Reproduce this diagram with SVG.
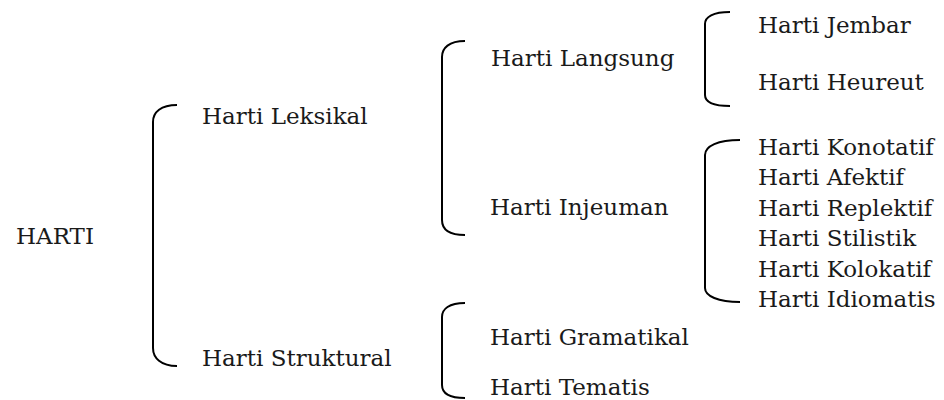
<svg xmlns="http://www.w3.org/2000/svg" width="944" height="400" viewBox="0 0 944 400">
<style>
.t{font-family:"DejaVu Serif",Georgia,serif;font-size:23px;fill:#1a1a1a}
.b{fill:none;stroke:#000;stroke-width:2}
</style>
<rect width="944" height="400" fill="#fff"/>
<g id="connectors">
<path class="b" d="M177,105 C161,105 153,112 153,122 L153,348 C153,358 161,366 177,366"/>
<path class="b" d="M465,41 C449,41 442,48 442,57 L442,220 C442,229 449,235 465,235"/>
<path class="b" d="M730,12 C713,12 705,17 705,24 L705,95 C705,102 713,106 730,106"/>
<path class="b" d="M740,140 C718,140 705,146 705,155 L705,288 C705,296 718,302 740,302"/>
<path class="b" d="M465,303 C449,303 442,309 442,317 L442,385 C442,393 449,398 465,398"/>
</g>
<g id="n-harti"><text class="t" x="16" y="244">HARTI</text></g>
<g id="n-leksikal"><text class="t" x="202" y="124">Harti Leksikal</text></g>
<g id="n-struktural"><text class="t" x="202" y="366">Harti Struktural</text></g>
<g id="n-langsung"><text class="t" x="491" y="66">Harti Langsung</text></g>
<g id="n-injeuman"><text class="t" x="490" y="215">Harti Injeuman</text></g>
<g id="n-gramatikal"><text class="t" x="490" y="345">Harti Gramatikal</text></g>
<g id="n-tematis"><text class="t" x="490" y="395">Harti Tematis</text></g>
<g id="n-jembar"><text class="t" x="758" y="33">Harti Jembar</text></g>
<g id="n-heureut"><text class="t" x="758" y="90">Harti Heureut</text></g>
<g id="n-konotatif"><text class="t" x="758" y="155">Harti Konotatif</text></g>
<g id="n-afektif"><text class="t" x="758" y="185">Harti Afektif</text></g>
<g id="n-replektif"><text class="t" x="758" y="216">Harti Replektif</text></g>
<g id="n-stilistik"><text class="t" x="758" y="246">Harti Stilistik</text></g>
<g id="n-kolokatif"><text class="t" x="758" y="277">Harti Kolokatif</text></g>
<g id="n-idiomatis"><text class="t" x="758" y="307">Harti Idiomatis</text></g>
</svg>
